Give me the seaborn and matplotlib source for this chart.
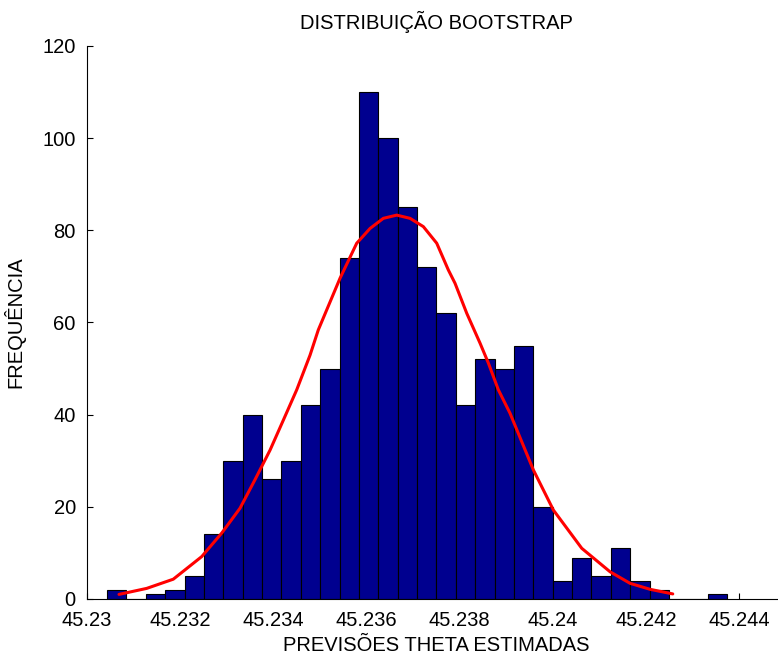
"""
Bootstrap distribution of estimated theta forecasts
Histogram with a fitted normal curve, MATLAB-like look
"""

import numpy as np
import pandas as pd
import matplotlib
matplotlib.use('Agg')
import matplotlib.pyplot as plt
import seaborn as sns

# Histogram data (32 bins)
bin_start = 45.23043
bin_width = 0.0004158
counts = [2, 0, 1, 2, 5, 14, 30, 40, 26, 30, 42, 50, 74, 110, 100, 85,
          72, 62, 42, 52, 50, 55, 20, 4, 9, 5, 11, 4, 2, 0, 0, 1]

# Fitted curve, points
curve_x = [45.230687, 45.231281, 45.231852, 45.232462, 45.232891, 45.233284,
           45.233606, 45.233928, 45.234213, 45.234501, 45.234786, 45.234964,
           45.235430, 45.235788, 45.236074, 45.236359, 45.236647, 45.236932,
           45.237218, 45.237505, 45.237754, 45.237898, 45.238149, 45.238435,
           45.238613, 45.238827, 45.239078, 45.239579, 45.240008, 45.240617,
           45.241225, 45.241654, 45.242083, 45.242570]
curve_y = [1.0, 2.3, 4.3, 9.2, 14.3, 19.7,
           25.9, 32.3, 38.8, 45.4, 52.9, 58.4,
           69.6, 77.2, 80.4, 82.6, 83.3, 82.6,
           80.8, 77.2, 71.4, 68.5, 62.0, 55.5,
           51.2, 45.4, 40.3, 28.0, 19.3, 11.0,
           5.9, 3.4, 2.1, 1.1]

x_ticks = [45.23, 45.232, 45.234, 45.236, 45.238, 45.24, 45.242, 45.244]
x_tick_labels = ['45.23', '45.232', '45.234', '45.236', '45.238', '45.24',
                 '45.242', '45.244']
y_ticks = [0, 20, 40, 60, 80, 100, 120]

sns.set_theme(style='white')
plt.rcParams['font.family'] = ['Liberation Sans', 'DejaVu Sans']
plt.rcParams['text.color'] = 'black'
plt.rcParams['axes.labelcolor'] = 'black'

edges = bin_start + bin_width * np.arange(len(counts) + 1)
centers = (edges[:-1] + edges[1:]) / 2
hist_df = pd.DataFrame({'theta': centers, 'count': counts})

fig = plt.figure(figsize=(7.78, 6.55), dpi=100)
ax = fig.add_axes([0.1118, 0.0855, 0.8985, 0.8443])

sns.histplot(data=hist_df, x='theta', weights='count', bins=list(edges),
             color='#00008F', edgecolor='black', linewidth=0.8, alpha=1,
             ax=ax)
sns.lineplot(x=curve_x, y=curve_y, sort=False, color='red', linewidth=2.2,
             ax=ax)

ax.set_xlim(45.23, 45.245)
ax.set_ylim(0, 120)
ax.set_xticks(x_ticks)
ax.set_xticklabels(x_tick_labels)
ax.set_yticks(y_ticks)
ax.tick_params(direction='in', length=4, width=0.8, labelsize=14.5,
               colors='black', bottom=True, left=True)
ax.tick_params(axis='x', pad=9)
ax.tick_params(axis='y', pad=8)

for side in ['top', 'right']:
    ax.spines[side].set_visible(False)
for side in ['left', 'bottom']:
    ax.spines[side].set_color('black')
    ax.spines[side].set_linewidth(0.8)

ax.set_title('DISTRIBUIÇÃO BOOTSTRAP', fontsize=14.5, pad=12, color='black')
ax.set_xlabel('PREVISÕES THETA ESTIMADAS', fontsize=14.5, labelpad=4)
ax.set_ylabel('FREQUÊNCIA', fontsize=14.5, labelpad=12)

fig.savefig('out.png', dpi=100)
plt.close(fig)
